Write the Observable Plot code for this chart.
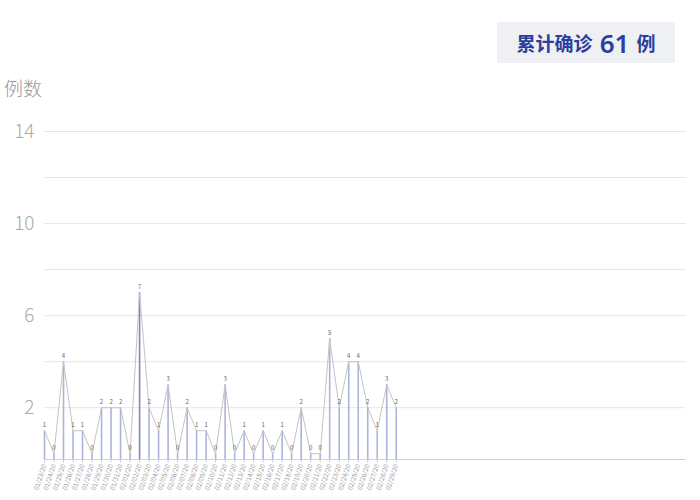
<!DOCTYPE html>
<html><head><meta charset="utf-8">
<script src="https://cdn.jsdelivr.net/npm/d3@7"></script>
<script src="https://cdn.jsdelivr.net/npm/@observablehq/plot@0.6"></script>
<style>
body{margin:0;background:#fff;font-family:"Noto Sans CJK SC","Noto Sans",sans-serif;}
#wrap{position:relative;width:700px;height:500px;}
#badge{position:absolute;left:497px;top:22px;width:178px;height:41px;background:#eef0f4;color:#2b3f9c;font-weight:700;font-size:19px;display:flex;align-items:center;justify-content:center;gap:0;}
#badge .n{font-size:26px;margin:0 7px;font-family:"Noto Sans","Noto Sans CJK SC",sans-serif;font-weight:600;}
#ytitle{position:absolute;left:4px;top:74px;font-size:19px;color:#999;font-weight:300;}
</style></head>
<body><div id="wrap"><div id="badge">累计确诊<span class="n">61</span>例</div><div id="ytitle">例数</div><div id="chart"></div></div>
<script>
const dates = ["01/23/20","01/24/20","01/25/20","01/26/20","01/27/20","01/28/20","01/29/20","01/30/20","01/31/20","02/01/20",
"02/02/20","02/03/20","02/04/20","02/05/20","02/06/20","02/07/20","02/08/20","02/09/20","02/10/20","02/11/20",
"02/12/20","02/13/20","02/14/20","02/15/20","02/16/20","02/17/20","02/18/20","02/19/20","02/20/20","02/21/20",
"02/22/20","02/23/20","02/24/20","02/25/20","02/26/20","02/27/20","02/28/20","02/29/20"];
const cases = [1,0,4,1,1,0,2,2,2,0,7,2,1,3,0,2,1,1,0,3,0,1,0,1,0,1,0,2,0,0,5,2,4,4,2,1,3,2];
const yTicks = [2,6,10,14];
const gridTicks = [2,4,6,8,10,12,14];

const data = cases.map((v,i)=>({i, date:dates[i], v}));

const chart = Plot.plot({
  width:700, height:500,
  marginLeft:44, marginRight:20, marginTop:131, marginBottom:41,
  style:{fontFamily:"'Noto Sans CJK SC','Noto Sans',sans-serif", background:"transparent"},
  x:{domain:[0,66.9], axis:null},
  y:{domain:[-0.25,14], axis:null},
  marks:[
    Plot.gridY(gridTicks,{stroke:"#e6e6e6", strokeOpacity:1, x1:0, x2:67.5}),
    Plot.ruleY([-0.25],{stroke:"#d0d0d0", x1:0, x2:67.5}),
    Plot.axisY(yTicks,{tickSize:0, tickPadding:0, dx:-10, fontSize:19, fill:"#aaa", fontWeight:300, label:null}),
    Plot.ruleX(data,{x:"i", y1:-0.25, y2:"v", stroke:d=>d.v>=7?"#7b88c8":"#aab4dc", strokeWidth:1.6}),
    Plot.line(data,{x:"i", y:"v", stroke:"#c4c4c4", strokeWidth:1}),
    Plot.text(data,{x:"i", y:"v", text:d=>String(d.v), dy:-6, fontSize:6, fill:"#666"}),
    Plot.ruleX(data,{x:"i", y1:-0.25, y2:-0.4, stroke:"#ccc"}),
    Plot.text(data,{x:"i", y:-0.25, text:"date", rotate:-72, textAnchor:"end", dy:5, dx:0, fontSize:6.5, fill:"#999"})
  ]
});
document.getElementById("chart").appendChild(chart);
</script>
</body></html>
